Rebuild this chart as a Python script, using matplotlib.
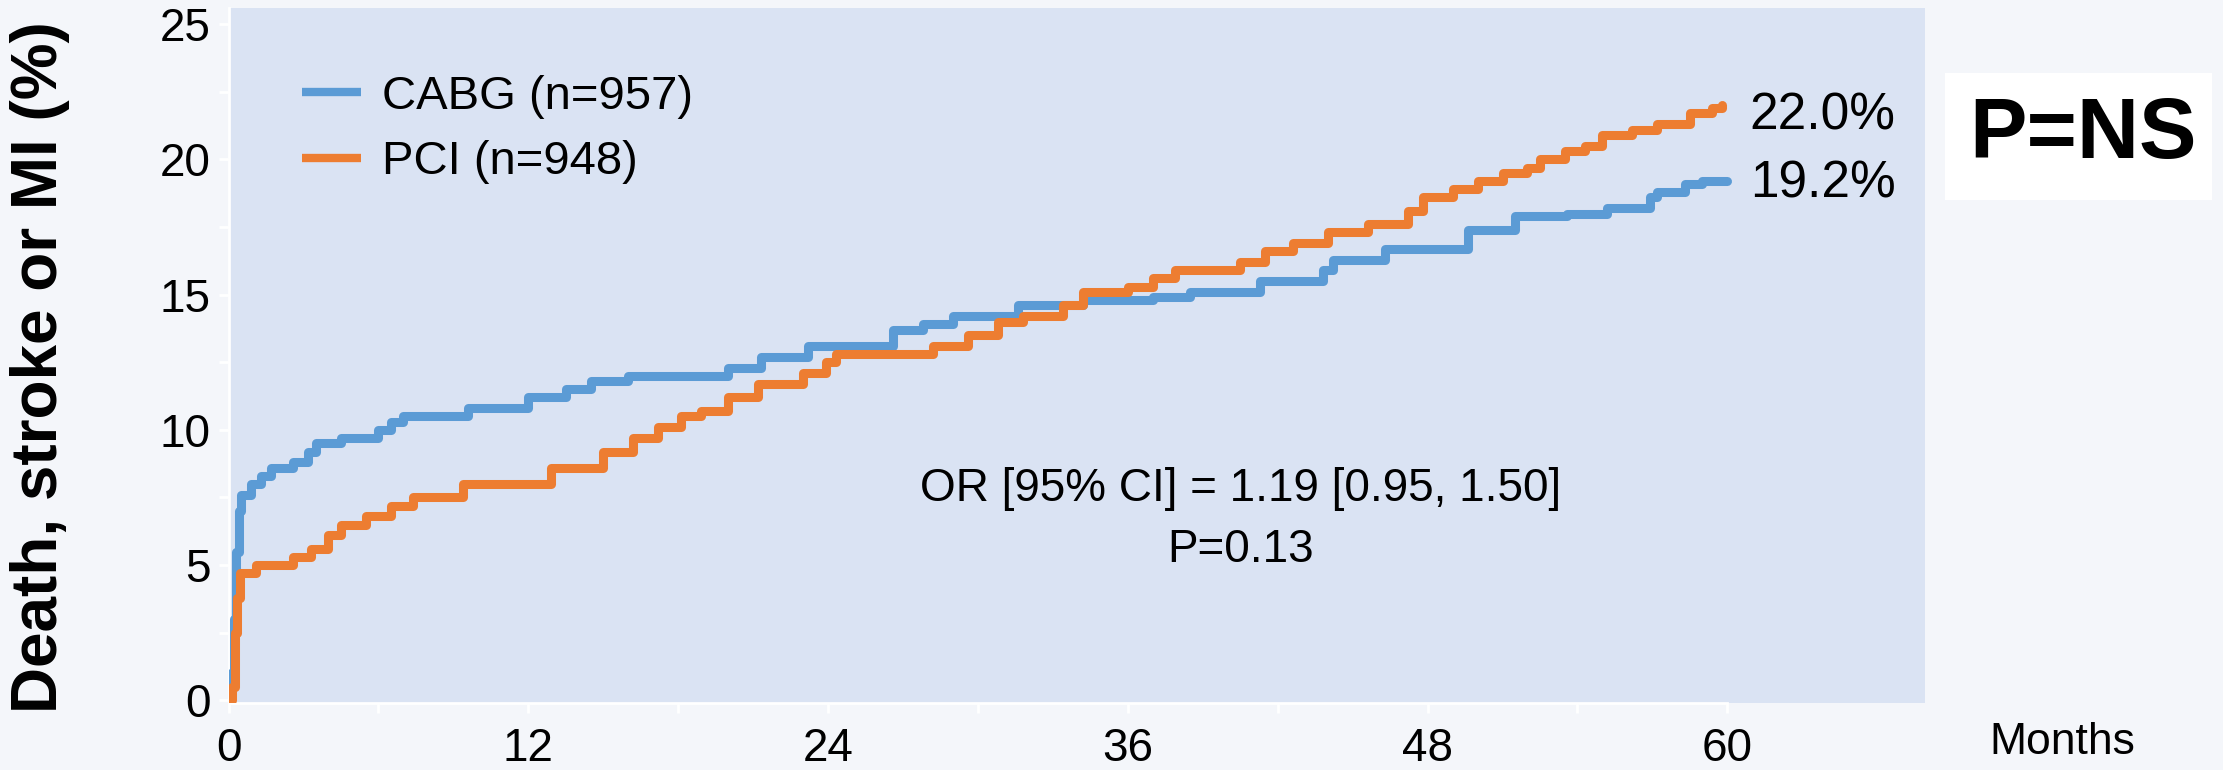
"""Kaplan-Meier style step curves: death, stroke or MI, CABG vs PCI."""

import matplotlib
matplotlib.use('Agg')
import matplotlib.pyplot as plt
from matplotlib.ticker import FixedLocator, MultipleLocator
from matplotlib import font_manager

# months at which the cumulative rate steps, and the rate (%) after the step
CABG_T = [0, 0.1, 0.2, 0.3, 0.4, 0.5, 0.9, 1.3, 1.7, 2.6, 3.2, 3.5, 4.5, 6.0,
          6.5, 7.0, 9.6, 12.0, 13.5, 14.5, 16.0, 20.0, 21.3, 23.2, 26.6, 27.8,
          29.0, 31.6, 34.2, 37.0, 38.5, 41.3, 43.8, 44.2, 46.3, 49.6, 51.5,
          53.6, 55.2, 56.9, 57.2, 58.3, 59.0, 60.0]
CABG_Y = [0, 1.0, 3.0, 5.5, 7.0, 7.6, 8.0, 8.3, 8.6, 8.8, 9.2, 9.5, 9.7, 10.0,
          10.3, 10.5, 10.8, 11.2, 11.5, 11.8, 12.0, 12.3, 12.7, 13.1, 13.7, 13.9,
          14.2, 14.6, 14.8, 14.9, 15.1, 15.5, 15.9, 16.3, 16.7, 17.4, 17.9,
          18.0, 18.2, 18.6, 18.8, 19.1, 19.2, 19.2]

PCI_T = [0, 0.15, 0.25, 0.35, 0.45, 1.1, 2.6, 3.3, 4.0, 4.5, 5.5, 6.5, 7.4,
         9.4, 12.9, 15.0, 16.2, 17.2, 18.1, 18.9, 20.0, 21.2, 23.0, 23.9, 24.3,
         28.2, 29.6, 30.8, 31.8, 33.4, 34.2, 36.0, 37.0, 37.9, 40.5, 41.5, 42.6,
         44.0, 45.6, 47.2, 47.8, 49.0, 50.0, 51.0, 52.0, 52.5, 53.5, 54.3, 55.0,
         56.2, 57.2, 58.5, 59.4, 59.8]
PCI_Y = [0, 0.5, 2.5, 3.8, 4.7, 5.0, 5.3, 5.6, 6.1, 6.5, 6.8, 7.2, 7.5,
         8.0, 8.6, 9.2, 9.7, 10.1, 10.5, 10.7, 11.2, 11.7, 12.1, 12.5, 12.8,
         13.1, 13.5, 14.0, 14.2, 14.6, 15.1, 15.3, 15.6, 15.9, 16.2, 16.6, 16.9,
         17.3, 17.6, 18.1, 18.6, 18.9, 19.2, 19.5, 19.7, 20.0, 20.3, 20.5, 20.9,
         21.1, 21.3, 21.7, 21.9, 22.0]

LABELS = ['CABG (n=957)', 'PCI (n=948)']
FINAL = ['19.2%', '22.0%']
X_TICKS = [0, 12, 24, 36, 48, 60]
X_MINOR = [6, 18, 30, 42, 54]
Y_TICKS = [0, 5, 10, 15, 20, 25]

BLUE = '#5b9bd5'
ORANGE = '#ed7d31'
PLOT_BG = '#dae3f3'
FIG_BG = '#f4f6fa'

installed = {f.name for f in font_manager.fontManager.ttflist}
NARROW = 'Liberation Sans Narrow' if 'Liberation Sans Narrow' in installed else 'Liberation Sans'
plt.rcParams['font.family'] = ['Liberation Sans', 'DejaVu Sans']


def main():
    fig = plt.figure(figsize=(22.23, 7.7), dpi=100, facecolor=FIG_BG)
    ax = fig.add_axes([0.1028, 0.087, 0.763, 0.9026])
    ax.set_facecolor(PLOT_BG)

    ax.step(CABG_T, CABG_Y, where='post', color=BLUE, lw=6.5,
            solid_capstyle='round', label=LABELS[0], zorder=3)
    ax.step(PCI_T, PCI_Y, where='post', color=ORANGE, lw=6.5,
            solid_capstyle='round', label=LABELS[1], zorder=3)

    ax.set_xlim(0, 67.9)
    ax.set_ylim(-0.1, 25.6)
    ax.set_xticks(X_TICKS)
    ax.set_yticks(Y_TICKS)
    ax.xaxis.set_minor_locator(FixedLocator(X_MINOR))
    ax.yaxis.set_minor_locator(MultipleLocator(2.5))
    ax.tick_params(axis='both', which='both', color='white', width=2,
                   length=7, labelsize=33)
    ax.tick_params(axis='x', pad=10)
    ax.tick_params(axis='y', pad=6)
    for side in ('top', 'right'):
        ax.spines[side].set_visible(False)
    for side in ('left', 'bottom'):
        ax.spines[side].set_color('white')
        ax.spines[side].set_linewidth(2)
    ax.spines['bottom'].set_bounds(0, 60)

    leg = ax.legend(loc='upper left', bbox_to_anchor=(0.018, 0.965),
                    fontsize=34, frameon=False, handlelength=1.25,
                    handletextpad=0.45, labelspacing=0.45)
    for line in leg.get_lines():
        line.set_linewidth(6)
        line.set_solid_capstyle('butt')

    ax.text(CABG_T[-1] + 0.9, CABG_Y[-1] - 0.1, FINAL[0], fontsize=37,
            ha='left', va='center')
    ax.text(PCI_T[-1] + 1.1, PCI_Y[-1] - 0.4, FINAL[1], fontsize=37,
            ha='left', va='center')

    ax.text(40.5, 7.8, 'OR [95% CI] = 1.19 [0.95, 1.50]', fontsize=33,
            ha='center', va='center')
    ax.text(40.5, 5.55, 'P=0.13', fontsize=33, ha='center', va='center')

    fig.text(2062 / 2223, 1 - 743 / 770, 'Months', fontsize=32,
             ha='center', va='center')
    fig.text(40 / 2223, 1 - 367 / 770, 'Death, stroke or MI (%)',
             fontsize=46, weight='bold', rotation=90, ha='center', va='center')

    fig.patches.append(plt.Rectangle((1945 / 2223, 1 - 200 / 770),
                                     267 / 2223, 127 / 770,
                                     transform=fig.transFigure,
                                     facecolor='white', edgecolor='none'))
    fig.text(2083 / 2223, 1 - 136 / 770, 'P=NS', fontsize=62, weight='bold',
             family=[NARROW, 'DejaVu Sans'], ha='center', va='center')

    fig.savefig('out.png', dpi=100, facecolor=FIG_BG)


if __name__ == '__main__':
    main()
